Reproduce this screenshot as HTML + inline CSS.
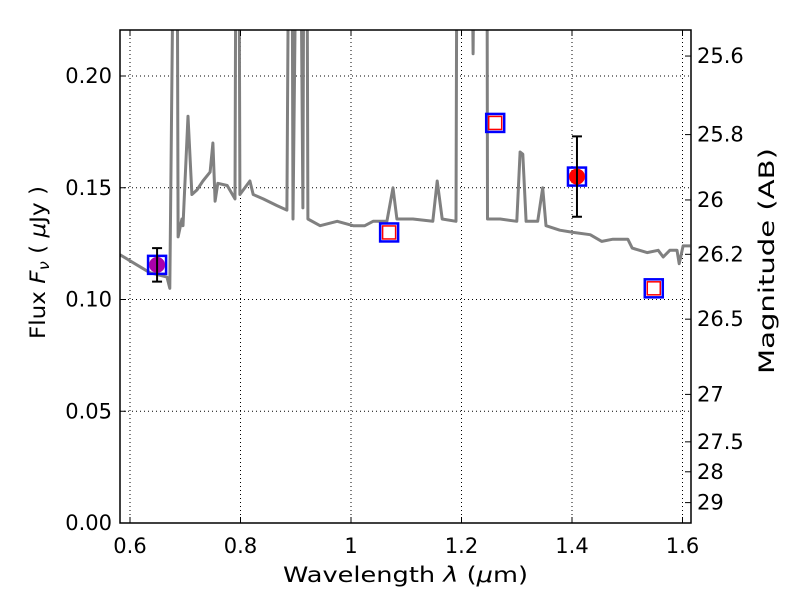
<!DOCTYPE html>
<html><head><meta charset="utf-8"><style>
html,body{margin:0;padding:0;background:#fff;}
svg{display:block;font-family:"DejaVu Sans","Liberation Sans",sans-serif;}
</style></head><body>
<svg id="chart" width="800" height="600" viewBox="0 0 800 600" xmlns="http://www.w3.org/2000/svg">
<rect x="0" y="0" width="800" height="600" fill="#fff"/>
<defs><clipPath id="clip"><rect x="120" y="30" width="571" height="493"/></clipPath></defs>
<g id="grid"></g>
<g id="plot" clip-path="url(#clip)"></g>
<g id="axes"></g>
</svg>
<script>
const specLam=[.582,.636,.667,.672,.680,.685,.687,.694,.696,.705,.712,.721,.732,.745,.750,.754,.759,.776,.790,.792,.797,.799,.817,.823,.841,.866,.884,.888,.893,.895,.902,.908,.913,.915,.920,.922,.944,.975,1.004,1.025,1.040,1.065,1.076,1.083,1.112,1.148,1.156,1.165,1.190,1.192,1.217,1.221,1.224,1.246,1.247,1.270,1.300,1.306,1.311,1.317,1.338,1.347,1.353,1.378,1.402,1.433,1.454,1.474,1.501,1.509,1.536,1.556,1.565,1.577,1.590,1.594,1.601,1.614];
const specFlux=[.120,.112,.110,.105,.30,.30,.128,.136,.133,.182,.147,.149,.153,.157,.170,.144,.152,.151,.145,.30,.30,.147,.153,.147,.145,.142,.140,.30,.30,.136,.30,.30,.141,.30,.30,.136,.133,.135,.133,.133,.135,.135,.150,.136,.136,.135,.153,.136,.135,.30,.30,.210,.30,.30,.136,.136,.135,.166,.165,.135,.135,.150,.133,.131,.130,.129,.126,.127,.127,.123,.121,.122,.119,.122,.122,.116,.124,.124];
const photLam=[0.649,1.069,1.261,1.409,1.548];
const photFlux=[0.1155,0.130,0.179,0.155,0.105];
const obsIdx=[0,3];
const obsErrLo=[0.108,0.137];
const obsErrHi=[0.123,0.173];
const xTicks=[0.6,0.8,1.0,1.2,1.4,1.6];
const xTickLabels=["0.6","0.8","1","1.2","1.4","1.6"];
const yTicks=[0,0.05,0.10,0.15,0.20];
const yTickLabels=["0.00","0.05","0.10","0.15","0.20"];
const magTicks=[25.6,25.8,26,26.2,26.5,27,27.5,28,29];
const magTickLabels=["25.6","25.8","26","26.2","26.5","27","27.5","28","29"];

const X=l=>130+(l-0.6)*552.5;
const Y=f=>523-f*2235;
const magToFlux=m=>Math.pow(10,(23.9-m)/2.5);
const NS="http://www.w3.org/2000/svg";
function mk(parent,tag,attrs){const e=document.createElementNS(NS,tag);for(const k in attrs)e.setAttribute(k,attrs[k]);parent.appendChild(e);return e;}
const grid=document.getElementById('grid'),plot=document.getElementById('plot'),axes=document.getElementById('axes');

xTicks.forEach(t=>{const l=mk(grid,'line',{x1:X(t),x2:X(t),y1:30,y2:523,stroke:'#000','stroke-width':1,'stroke-dasharray':'1,3'});

});
yTicks.forEach(t=>{if(t===0)return;const l=mk(grid,'line',{x1:120,x2:691,y1:Y(t),y2:Y(t),stroke:'#000','stroke-width':1,'stroke-dasharray':'1,3'});

});

const pts=specLam.map((l,i)=>X(l).toFixed(1)+','+Y(specFlux[i]).toFixed(1)).join(' ');
const sp=mk(plot,'polyline',{points:pts,fill:'none',stroke:'#808080','stroke-width':3,'stroke-linejoin':'round'});



photLam.forEach((l,i)=>{const cx=X(l),cy=Y(photFlux[i]);
 const b=mk(plot,'rect',{x:cx-9,y:cy-9,width:18,height:18,fill:'none',stroke:'#0000ff','stroke-width':2.5});
 
 
 if(obsIdx.indexOf(i)<0){const r=mk(plot,'rect',{x:cx-6.5,y:cy-6.5,width:13,height:13,fill:'none',stroke:'#ff0000','stroke-width':1.5});
 
 }
});
obsIdx.forEach((pi,j)=>{const cx=X(photLam[pi]),cy=Y(photFlux[pi]);
 const c=mk(plot,'circle',{cx:cx,cy:cy,r:8,fill:j===0?'#aa00aa':'#ff0000'});
 
 
 const e=mk(plot,'path',{d:`M${cx},${Y(obsErrHi[j])}V${Y(obsErrLo[j])}M${cx-5},${Y(obsErrHi[j])}h10M${cx-5},${Y(obsErrLo[j])}h10`,stroke:'#000','stroke-width':2,fill:'none'});
 
 
});

const frame=mk(axes,'rect',{x:120,y:30,width:571,height:493,fill:'none',stroke:'#000','stroke-width':1.5});


xTicks.forEach((t,i)=>{mk(axes,'path',{d:`M${X(t)},523v-6M${X(t)},30v6`,stroke:'#000','stroke-width':1});
 const tx=mk(axes,'text',{x:X(t),y:553,'font-size':21,'text-anchor':'middle'});tx.textContent=xTickLabels[i];
 
 });
yTicks.forEach((t,i)=>{mk(axes,'path',{d:`M120,${Y(t)}h6`,stroke:'#000','stroke-width':1});
 const tx=mk(axes,'text',{x:112,y:Y(t)+7,'font-size':21,'text-anchor':'end'});tx.textContent=yTickLabels[i];
 
 });
magTicks.forEach((m,i)=>{const y=Y(magToFlux(m));mk(axes,'path',{d:`M691,${y}h-6`,stroke:'#000','stroke-width':1});
 const tx=mk(axes,'text',{x:697,y:y+7,'font-size':21,'text-anchor':'start'});tx.textContent=magTickLabels[i];
 
 });
</script>
<svg style="position:absolute;left:0;top:0" width="800" height="600" xmlns="http://www.w3.org/2000/svg" font-family="DejaVu Sans, Liberation Sans, sans-serif">
<text x="283" y="582" font-size="21" textLength="245" lengthAdjust="spacingAndGlyphs">Wavelength  <tspan font-style="italic">λ</tspan> (<tspan font-style="italic">μ</tspan>m)</text>
<text transform="translate(45,339) rotate(-90)" font-size="21" textLength="153" lengthAdjust="spacingAndGlyphs">Flux  <tspan font-style="italic">F</tspan><tspan font-style="italic" font-size="15" dy="4">ν</tspan><tspan dy="-4">  ( </tspan><tspan font-style="italic">μ</tspan>Jy )</text>
<text transform="translate(774,374) rotate(-90)" font-size="21" textLength="226" lengthAdjust="spacingAndGlyphs">Magnitude (AB)</text>
</svg>
</body></html>
